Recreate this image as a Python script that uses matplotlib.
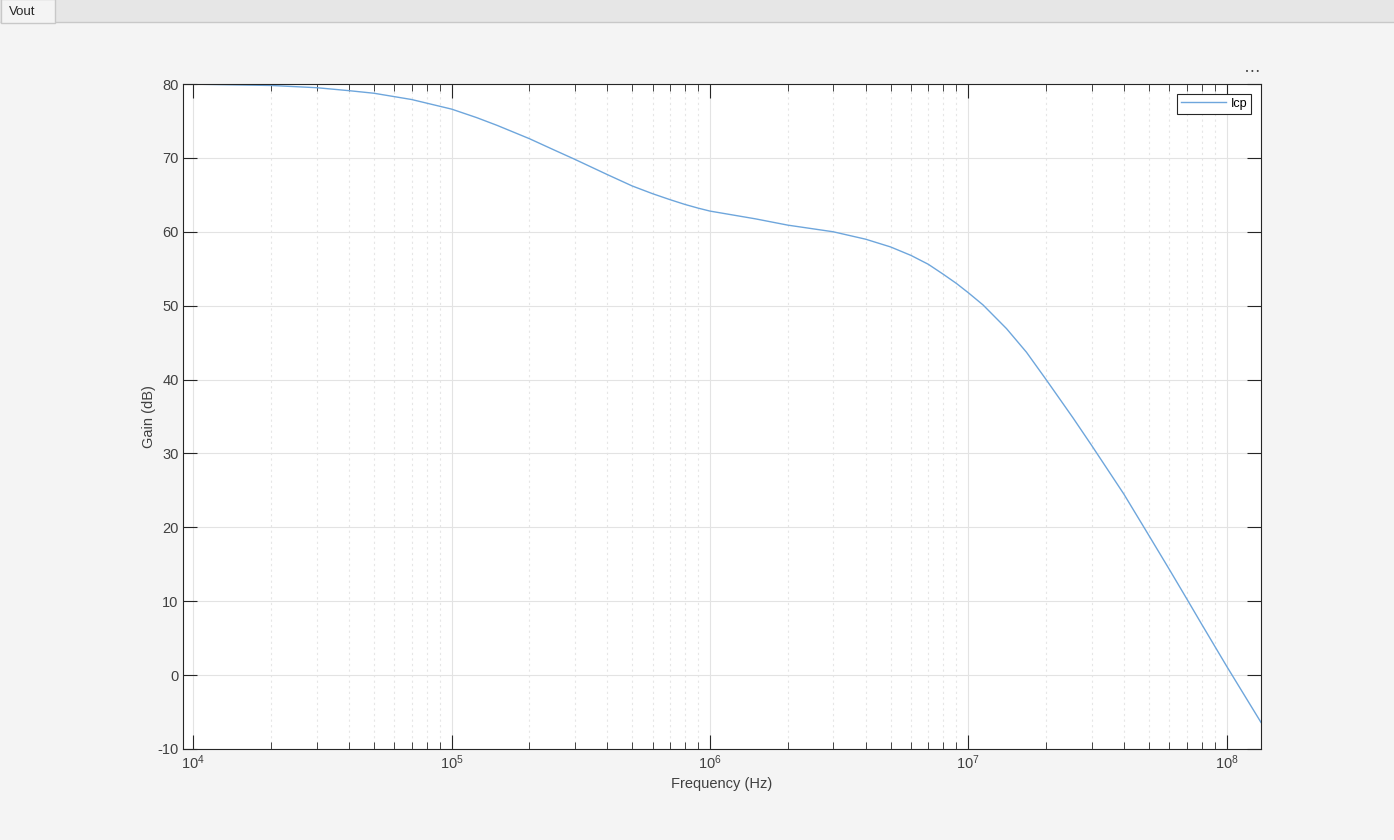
import numpy as np
import matplotlib
matplotlib.use('Agg')
import matplotlib.pyplot as plt
from matplotlib.patches import Rectangle
from matplotlib.ticker import LogLocator, FixedLocator, NullFormatter

plt.rcParams['font.family'] = ['Liberation Sans', 'DejaVu Sans']
plt.rcParams['mathtext.default'] = 'regular'
plt.rcParams['axes.unicode_minus'] = False

# values (Hz, dB)
freq = [9.1e3, 1e4, 2e4, 3e4, 4e4, 5e4, 7e4, 1e5, 1.25e5, 1.5e5, 2e5, 2.5e5, 3e5,
        4e5, 5e5, 6e5, 7e5, 8e5, 9e5, 1e6, 1.5e6, 2e6, 3e6, 4e6, 5e6, 6e6, 7e6,
        8e6, 9e6, 1e7, 1.14e7, 1.405e7, 1.679e7, 2e7, 2.544e7, 3e7, 4e7, 5e7,
        6e7, 7e7, 8e7, 1e8, 1.358e8]
gain = [80.0, 79.98, 79.8, 79.5, 79.1, 78.75, 77.9, 76.6, 75.45, 74.4, 72.6, 71.05, 69.8,
        67.75, 66.2, 65.15, 64.35, 63.7, 63.2, 62.8, 61.75, 60.9, 60.0, 59.0, 57.95, 56.8, 55.6,
        54.25, 53.0, 51.75, 50.1, 46.9, 43.7, 40.0, 34.8, 31.1, 24.5, 18.9,
        14.3, 10.35, 6.9, 1.2, -6.4]
series_name = 'Icp'
yticks = [-10, 0, 10, 20, 30, 40, 50, 60, 70, 80]

W, H = 1394, 840
fig = plt.figure(figsize=(W / 100, H / 100), dpi=100)
fig.patch.set_facecolor('#f4f4f4')

# tab strip on top
fig.patches.append(Rectangle((0, 1 - 22 / H), 1, 22 / H, transform=fig.transFigure,
                             facecolor='#e6e6e6', edgecolor='none', zorder=0))
fig.patches.append(Rectangle((0, 1 - 22 / H), 1, 0, transform=fig.transFigure,
                             facecolor='none', edgecolor='#c8c8c8', lw=1, zorder=1))
fig.patches.append(Rectangle((1 / W, 1 - 23 / H), 54 / W, 24 / H, transform=fig.transFigure,
                             facecolor='#f4f4f4', edgecolor='#c8c8c8', lw=1, zorder=2))
fig.text(22 / W, 1 - 12 / H, 'Vout', ha='center', va='center', fontsize=9.5, color='#262626')

ax = fig.add_axes([182.7 / W, 1 - 749 / H, (1261 - 182.7) / W, (749 - 84) / H])
ax.plot(freq, gain, color='#6ea6dc', lw=1.0, label=series_name)
ax.set_xscale('log')
ax.set_xlim(9.1e3, 1.358e8)
ax.set_ylim(-10, 80)
ax.yaxis.set_major_locator(FixedLocator(yticks))
ax.xaxis.set_major_locator(LogLocator(base=10, numticks=20))
ax.xaxis.set_minor_locator(LogLocator(base=10, subs=np.arange(2, 10), numticks=20))
ax.xaxis.set_minor_formatter(NullFormatter())

ax.grid(True, which='major', color='#e3e3e3', lw=0.8)
ax.grid(True, which='minor', axis='x', color='#e6e6e6', lw=0.8, ls=(0, (2, 3)))
ax.set_axisbelow(True)

for s in ax.spines.values():
    s.set_color('#262626')
    s.set_linewidth(0.8)
ax.tick_params(which='both', direction='in', top=True, right=True, colors='#262626',
               labelsize=10.5, labelcolor='#404040')
ax.tick_params(which='major', length=10, width=0.8)
ax.tick_params(which='minor', length=5, width=0.6)
ax.tick_params(axis='y', pad=3)
ax.tick_params(axis='x', pad=3)

ax.set_xlabel('Frequency (Hz)', fontsize=10.5, color='#404040', labelpad=4)
ax.set_ylabel('Gain (dB)', fontsize=10.5, color='#404040', labelpad=1)

leg = ax.legend(loc='upper right', fontsize=9, fancybox=False, framealpha=1,
                edgecolor='#262626', borderpad=0.3, handlelength=3.6,
                handletextpad=0.4, borderaxespad=0.8)
leg.get_frame().set_linewidth(0.8)

fig.text(1252 / W, 1 - 72 / H, '\u2022\u2009\u2022\u2009\u2022', ha='center', va='center',
         fontsize=5, color='#404040', family='DejaVu Sans')

fig.savefig('out.png', dpi=100, facecolor=fig.get_facecolor())
